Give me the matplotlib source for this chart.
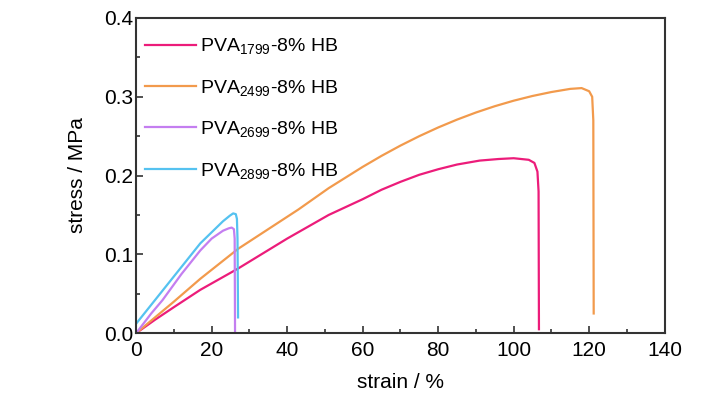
import matplotlib
matplotlib.use("Agg")
import matplotlib.pyplot as plt
from matplotlib.ticker import MultipleLocator, FormatStrFormatter

plt.rcParams['font.family'] = ['Liberation Sans', 'DejaVu Sans']
plt.rcParams['mathtext.fontset'] = 'custom'
plt.rcParams['mathtext.rm'] = 'Liberation Sans'
plt.rcParams['mathtext.default'] = 'rm'

# ---- data (strain %, stress MPa) ----
strain_1799 = [0, 5, 10, 17, 27, 40, 51, 60, 65, 70, 75, 80, 85, 91, 96, 100, 104, 105.5, 106.3, 106.6, 106.7]
stress_1799 = [0, 0.017, 0.033, 0.055, 0.082, 0.120, 0.150, 0.170, 0.182, 0.192, 0.201, 0.208, 0.214,
               0.219, 0.221, 0.222, 0.220, 0.216, 0.205, 0.18, 0.005]

strain_2499 = [0, 5, 10, 17, 27, 35, 43, 51, 60, 65, 70, 75, 80, 85, 90, 95, 100, 105, 110, 115, 118,
               120, 120.8, 121.1, 121.2]
stress_2499 = [0, 0.020, 0.040, 0.069, 0.107, 0.132, 0.157, 0.184, 0.211, 0.225, 0.238, 0.250, 0.261,
               0.271, 0.280, 0.288, 0.295, 0.301, 0.306, 0.310, 0.311, 0.307, 0.300, 0.27, 0.025]

strain_2699 = [0, 4, 7, 12, 17, 20, 23, 24.5, 25.3, 25.9, 26.1, 26.2]
stress_2699 = [0, 0.025, 0.042, 0.075, 0.105, 0.120, 0.130, 0.133, 0.134, 0.132, 0.12, 0.0]

strain_2899 = [0, 5, 10, 17, 20, 23, 24.8, 25.7, 26.4, 26.7, 26.85, 27.0]
stress_2899 = [0.012, 0.042, 0.072, 0.114, 0.128, 0.142, 0.149, 0.152, 0.151, 0.145, 0.12, 0.02]

labels = ['PVA$_{1799}$-8% HB', 'PVA$_{2499}$-8% HB', 'PVA$_{2699}$-8% HB', 'PVA$_{2899}$-8% HB']
colors = ['#EC1C7A', '#F29A4C', '#C47EF0', '#55C2F0']

fig = plt.figure(figsize=(7.28, 3.99), dpi=100)
ax = fig.add_axes([0.187, 0.165, 0.726, 0.79])

series = [(strain_1799, stress_1799), (strain_2499, stress_2499),
          (strain_2699, stress_2699), (strain_2899, stress_2899)]
for (x, y), lab, col in zip(series, labels, colors):
    ax.plot(x, y, color=col, lw=1.6, label=lab)

ax.set_xlim(0, 140)
ax.set_ylim(0, 0.4)
ax.xaxis.set_major_locator(MultipleLocator(20))
ax.xaxis.set_minor_locator(MultipleLocator(10))
ax.yaxis.set_major_locator(MultipleLocator(0.1))
ax.yaxis.set_minor_locator(MultipleLocator(0.05))
ax.yaxis.set_major_formatter(FormatStrFormatter('%.1f'))
ax.tick_params(which='both', direction='in', top=False, right=False,
               labelsize=15, color='#333333', width=1.2)
ax.tick_params(which='major', length=5, pad=2)
ax.tick_params(axis='x', which='major', pad=6)
ax.tick_params(which='minor', length=3)
for s in ax.spines.values():
    s.set_color('#333333')
    s.set_linewidth(1.5)

ax.set_xlabel('strain / %', fontsize=15, labelpad=9)
ax.set_ylabel('stress / MPa', fontsize=15, labelpad=12)

ax.legend(loc='upper left', frameon=False, fontsize=14, handlelength=2.6,
          handletextpad=0.2, labelspacing=1.1, borderaxespad=0.45,
          bbox_to_anchor=(-0.014, 0.994))

fig.savefig('out.png', dpi=100)
